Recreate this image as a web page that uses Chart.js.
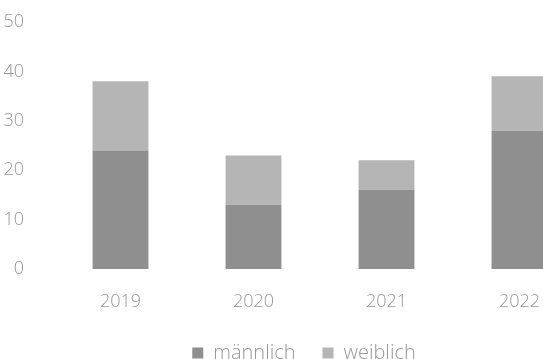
<!DOCTYPE html>
<html>
<head>
<meta charset="utf-8">
<script src="https://cdn.jsdelivr.net/npm/chart.js@4/dist/chart.umd.min.js"></script>
<style>
  html, body { margin: 0; padding: 0; background: #fff; overflow: hidden; }
  #wrap { width: 608px; height: 373px; }
</style>
</head>
<body>
<div id="wrap"><canvas id="c" width="608" height="373"></canvas></div>
<script>
// Anzahl pro Jahr, aufgeteilt nach Geschlecht
const years = ['2019', '2020', '2021', '2022'];
const maennlich = [24, 13, 16, 28];
const weiblich = [14, 10, 6, 11];
const yTicks = [0, 10, 20, 30, 40, 50];

const textColor = '#979797';
const family = '"Open Sans", "DejaVu Sans", sans-serif';
const tickFont = { family, size: 18, weight: 300 };
const legendFont = { family, size: 20, weight: 300 };

// Nudges the legend row a little to the right of the plot centre
const legendShift = {
  id: 'legendShift',
  afterLayout(chart) {
    if (chart.legend) {
      chart.legend.left += 11;
      chart.legend.right += 11;
    }
  }
};

new Chart(document.getElementById('c'), {
  type: 'bar',
  data: {
    labels: years,
    datasets: [
      { label: 'männlich', data: maennlich, backgroundColor: '#8f8f8f', categoryPercentage: 1, barPercentage: 0.42 },
      { label: 'weiblich', data: weiblich, backgroundColor: '#b5b5b5', categoryPercentage: 1, barPercentage: 0.42 }
    ]
  },
  plugins: [legendShift],
  options: {
    responsive: false,
    animation: false,
    layout: { padding: { left: 0, right: 22, top: 22, bottom: 0 } },
    plugins: {
      tooltip: { enabled: false },
      legend: {
        position: 'bottom',
        labels: {
          color: textColor,
          font: legendFont,
          boxWidth: 11,
          boxHeight: 11,
          padding: 27
        }
      }
    },
    scales: {
      x: {
        stacked: true,
        grid: { display: false },
        border: { display: false },
        afterFit: (axis) => { axis.height = 47; },
        ticks: { color: textColor, font: tickFont, padding: 14 }
      },
      y: {
        stacked: true,
        min: 0,
        max: 50,
        afterBuildTicks: (axis) => { axis.ticks = yTicks.map(v => ({ value: v })); },
        afterFit: (axis) => { axis.width = 54; axis.paddingTop = 0; axis.paddingBottom = 0; },
        grid: { display: false },
        border: { display: false },
        ticks: { color: textColor, font: tickFont, padding: 22 }
      }
    }
  }
});
</script>
</body>
</html>
